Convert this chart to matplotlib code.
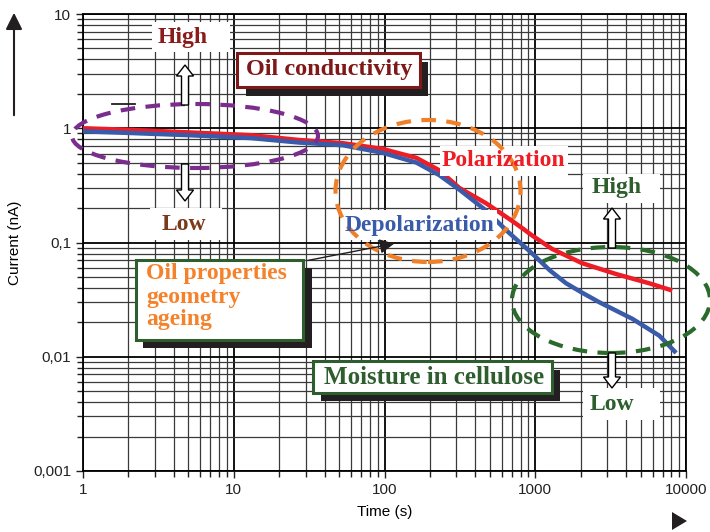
import matplotlib
matplotlib.use('Agg')
from matplotlib import pyplot as plt
from matplotlib.patches import Ellipse, Rectangle, FancyArrow, Polygon
from matplotlib.ticker import FixedLocator, FuncFormatter

# Polarization / depolarization currents (nA) versus time (s)
time_pol = [1, 2, 5, 13, 27, 53, 97, 163, 230, 314, 473, 700, 830, 955, 1290, 2040, 3430, 5690, 8100]
current_pol = [1.0, 0.97, 0.92, 0.87, 0.79, 0.74, 0.66, 0.55, 0.43, 0.30, 0.22, 0.155, 0.132, 0.115, 0.088, 0.066, 0.053, 0.044, 0.038]

time_dep = [1, 2, 5, 13, 27, 53, 97, 163, 230, 314, 473, 646, 955, 1250, 1600, 2000, 2660, 4400, 6650, 8600]
current_dep = [0.94, 0.91, 0.87, 0.82, 0.75, 0.71, 0.61, 0.50, 0.39, 0.29, 0.19, 0.127, 0.08, 0.057, 0.044, 0.037, 0.030, 0.0215, 0.0153, 0.0108]

y_ticks = [0.001, 0.01, 0.1, 1, 10]
y_tick_labels = ['0,001', '0,01', '0,1', '1', '10']
x_ticks = [1, 10, 100, 1000, 10000]

plt.rcParams['font.family'] = ['Liberation Sans', 'DejaVu Sans']

fig = plt.figure(figsize=(7.1, 5.32), dpi=100)
ax = fig.add_axes([83 / 710, 1 - 471 / 532, 603 / 710, 457 / 532])

ax.plot(time_pol, current_pol, color='#ee1c25', lw=3.2, solid_capstyle='butt', zorder=3)
ax.plot(time_dep, current_dep, color='#3a5baa', lw=3.2, solid_capstyle='butt', zorder=3)

ax.set_xscale('log')
ax.set_yscale('log')
ax.set_xlim(1, 10000)
ax.set_ylim(0.001, 10)
ax.yaxis.set_major_locator(FixedLocator(y_ticks))
ax.yaxis.set_major_formatter(FuncFormatter(lambda v, pos: y_tick_labels[y_ticks.index(min(y_ticks, key=lambda t: abs(t - v)))]))
ax.xaxis.set_major_locator(FixedLocator(x_ticks))
ax.xaxis.set_major_formatter(FuncFormatter(lambda v, pos: '%d' % round(v)))
ax.tick_params(which='both', direction='out', length=5, width=1, labelsize=11, colors='#222222')
ax.tick_params(which='minor', length=4)
ax.grid(which='major', color='black', lw=1.3)
ax.grid(which='minor', color='#3a3a3a', lw=0.9)
for s in ax.spines.values():
    s.set_linewidth(1.3)
ax.set_xlabel('Time (s)', fontsize=11, labelpad=6)
ax.set_ylabel('Current (nA)', fontsize=11, labelpad=8)

T = fig.dpi_scale_trans


def P(px, py):
    # pixel position (top-left origin) -> inches from bottom-left
    return (px / 100, (532 - py) / 100)


def rect(x0, y0, x1, y1, face, edge='none', lw=0, z=5):
    r = Rectangle(P(x0, y1), (x1 - x0) / 100, (y1 - y0) / 100, facecolor=face,
                  edgecolor=edge, lw=lw, transform=T, clip_on=False, zorder=z)
    ax.add_patch(r)


def label(px, py, s, color, size=17, ha='center', z=8):
    ax.text(*P(px, py), s, color=color, fontsize=size, fontweight='bold',
            family=['Liberation Serif', 'DejaVu Serif'], ha=ha, va='center',
            transform=T, clip_on=False, zorder=z)


def hollow_arrow(px, tail, tip, z=7):
    x0, y0 = P(px, tail)
    _, y1 = P(px, tip)
    a = FancyArrow(x0, y0, 0, y1 - y0, width=0.07, head_width=0.17, head_length=0.11,
                   length_includes_head=True, facecolor='white', edgecolor='black',
                   lw=1, transform=T, clip_on=False, zorder=z)
    ax.add_patch(a)


def dashed_ellipse(cx, cy, w, h, color):
    e = Ellipse(P(cx, cy), w / 100, h / 100, fill=False, edgecolor=color, lw=3,
                linestyle=(0, (3.5, 2.5)), transform=T, clip_on=False, zorder=6)
    ax.add_patch(e)


# white label backgrounds
rect(152, 22, 230, 52, 'white')
rect(150, 208, 222, 240, 'white')
rect(440, 146, 568, 176, 'white')
rect(343, 210, 497, 240, 'white')
rect(583, 174, 660, 203, 'white')
rect(583, 388, 660, 420, 'white')

# boxed labels with drop shadows
rect(246, 62, 428, 96, '#231f20', z=5)
rect(237, 53, 420, 87, 'white', '#7f1818', 2.2, z=6)
rect(143, 268, 312, 348, '#231f20', z=5)
rect(136, 260, 303, 340, 'white', '#2e5e2e', 2.2, z=6)
rect(321, 370, 560, 401, '#231f20', z=5)
rect(313, 361, 552, 393, 'white', '#2e5e2e', 2.2, z=6)

dashed_ellipse(195, 136, 246, 64, '#7b2d8e')
dashed_ellipse(428, 191, 185, 142, '#f07f2a')
dashed_ellipse(611, 300, 198, 106, '#2a6a2a')

hollow_arrow(185, 105, 65)
hollow_arrow(185, 164, 201)
hollow_arrow(612, 248, 208)
hollow_arrow(612, 353, 388)

label(183, 38, 'High', '#8b1a1a')
label(329, 69, 'Oil conductivity', '#7f1818', size=17.5)
label(184, 224, 'Low', '#7a3b1a')
label(503, 160, 'Polarization', '#ee1c25')
label(420, 225, 'Depolarization', '#3a5baa')
label(617, 187, 'High', '#2e5e2e')
label(612, 405, 'Low', '#2e5e2e')
label(146, 274, 'Oil properties', '#f5822a', ha='left')
label(146, 297, 'geometry', '#f5822a', ha='left')
label(146, 319, 'ageing', '#f5822a', ha='left')
label(434, 377, 'Moisture in cellulose', '#2e5e2e', size=18)

# pointer from the oil properties box
ax.annotate('', xy=P(397, 243), xytext=P(305, 261), xycoords=T, textcoords=T,
            arrowprops=dict(arrowstyle='-|>', color='#231f20', lw=1, mutation_scale=22),
            zorder=7, annotation_clip=False)

# axis direction arrows
ax.annotate('', xy=P(14, 10), xytext=P(14, 118), xycoords=T, textcoords=T,
            arrowprops=dict(arrowstyle='-|>', color='#231f20', lw=1.5, mutation_scale=25),
            annotation_clip=False)
ax.add_patch(Polygon([P(672, 512), P(672, 530), P(687, 521)], closed=True,
                     facecolor='#231f20', edgecolor='none', transform=T, clip_on=False))
ax.plot([P(112, 104)[0], P(135, 104)[0]], [P(112, 104)[1], P(135, 104)[1]],
        color='#231f20', lw=1.3, transform=T, clip_on=False, zorder=4)

fig.savefig('out.png', dpi=100)
